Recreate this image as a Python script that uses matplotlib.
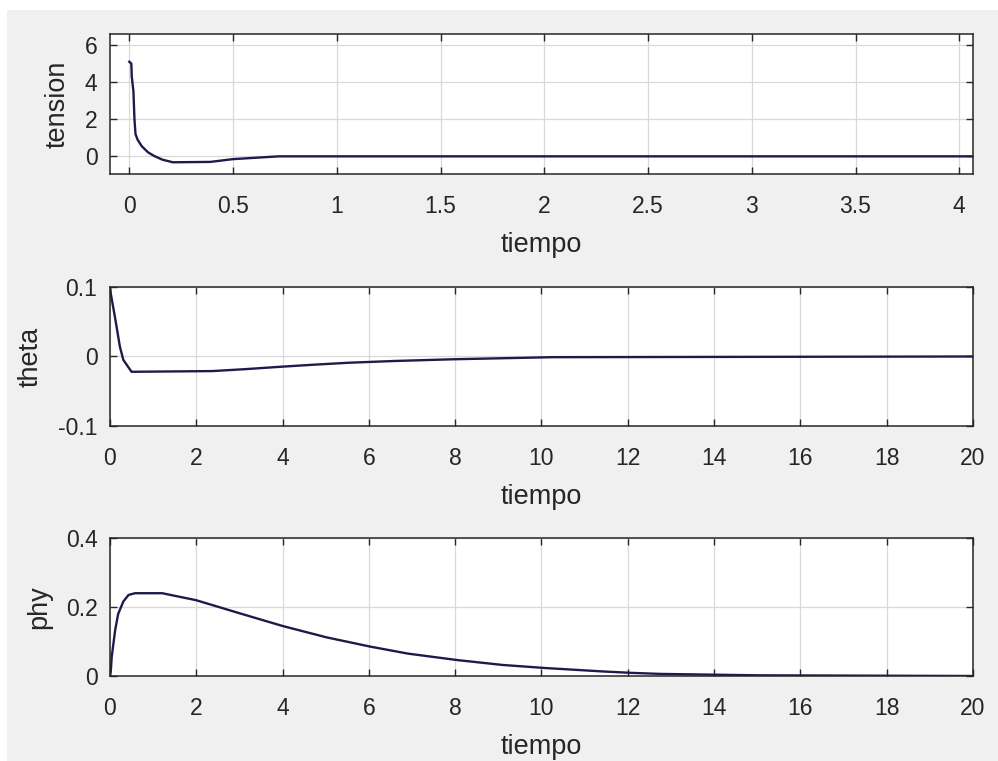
import numpy as np
import matplotlib.pyplot as plt
from matplotlib.patches import Rectangle
from matplotlib.ticker import FormatStrFormatter, MultipleLocator

# datos
t_tension = [0, 0.01, 0.012, 0.02, 0.025, 0.03, 0.04, 0.06, 0.09, 0.12, 0.16, 0.21, 0.39, 0.5, 0.72, 4.1]
tension = [5.1, 5.0, 4.3, 3.5, 2.0, 1.2, 0.9, 0.55, 0.22, 0.02, -0.18, -0.32, -0.3, -0.15, 0.0, 0.0]

t_theta = [0, 0.02, 0.12, 0.23, 0.31, 0.5, 2.37, 3.19, 3.9, 4.67, 5.53, 6.58, 7.95, 10.25, 20]
theta = [0.1, 0.09, 0.055, 0.014, -0.005, -0.022, -0.021, -0.018, -0.015, -0.012,
         -0.009, -0.0065, -0.004, -0.001, 0.0]

t_phy = [0, 0.02, 0.04, 0.12, 0.19, 0.31, 0.43, 0.58, 1.21, 1.52, 1.99, 3.0, 4.0, 5.02,
         6.04, 6.9, 8.06, 9.1, 10.1, 11.45, 12.1, 12.77, 15.0, 20]
phy = [0.0, 0.016, 0.055, 0.133, 0.18, 0.216, 0.235, 0.24, 0.24, 0.232, 0.22, 0.182, 0.145,
       0.112, 0.085, 0.065, 0.046, 0.032, 0.023, 0.013, 0.009, 0.006, 0.002, 0.0]

plt.rcParams['font.family'] = ['Liberation Sans', 'DejaVu Sans']
txt = '#262626'
linea = '#1c1c4c'

fig = plt.figure(figsize=(9.98, 7.61), dpi=100, facecolor='white')
fig.patches.append(Rectangle((7 / 998, 0), 1, 1 - 10 / 761, transform=fig.transFigure,
                             facecolor='#f0f0f0', edgecolor='none', zorder=-10))

pos = [
    [0.1102, 0.7714, 0.8647, 0.184],
    [0.1102, 0.4402, 0.8647, 0.1827],
    [0.1102, 0.1117, 0.8647, 0.1813],
]
ax1 = fig.add_axes(pos[0])
ax2 = fig.add_axes(pos[1])
ax3 = fig.add_axes(pos[2])

ax1.plot(t_tension, tension, color=linea, lw=1.7)
ax1.set_xlim(-0.093, 4.066)
ax1.set_ylim(-0.95, 6.6)
ax1.xaxis.set_major_locator(MultipleLocator(0.5))
ax1.set_yticks([0, 2, 4, 6])
ax1.set_ylabel('tension')

ax2.plot(t_theta, theta, color=linea, lw=1.7)
ax2.set_xlim(0, 20)
ax2.set_ylim(-0.1, 0.1)
ax2.set_xticks(np.arange(0, 21, 2))
ax2.set_yticks([-0.1, 0, 0.1])
ax2.set_ylabel('theta')

ax3.plot(t_phy, phy, color=linea, lw=1.7)
ax3.set_xlim(0, 20)
ax3.set_ylim(0, 0.4)
ax3.set_xticks(np.arange(0, 21, 2))
ax3.set_yticks([0, 0.2, 0.4])
ax3.set_ylabel('phy')

for ax in (ax1, ax2, ax3):
    ax.set_facecolor('white')
    ax.set_xlabel('tiempo', fontsize=19.5, color=txt, labelpad=10)
    ax.yaxis.label.set_fontsize(19.5)
    ax.yaxis.label.set_color(txt)
    ax.yaxis.labelpad = 10
    ax.xaxis.set_major_formatter(FormatStrFormatter('%g'))
    ax.yaxis.set_major_formatter(FormatStrFormatter('%g'))
    ax.grid(True, color='#d9d9d9', lw=0.9)
    ax.set_axisbelow(True)
    ax.tick_params(direction='in', top=True, right=True, length=5, width=1,
                   colors=txt, labelsize=16.5)
    ax.tick_params(axis='x', pad=15)
    ax.tick_params(axis='y', pad=9)
    for s in ax.spines.values():
        s.set_color(txt)
        s.set_linewidth(1.1)

fig.savefig('out.png', dpi=100, facecolor=fig.get_facecolor())
